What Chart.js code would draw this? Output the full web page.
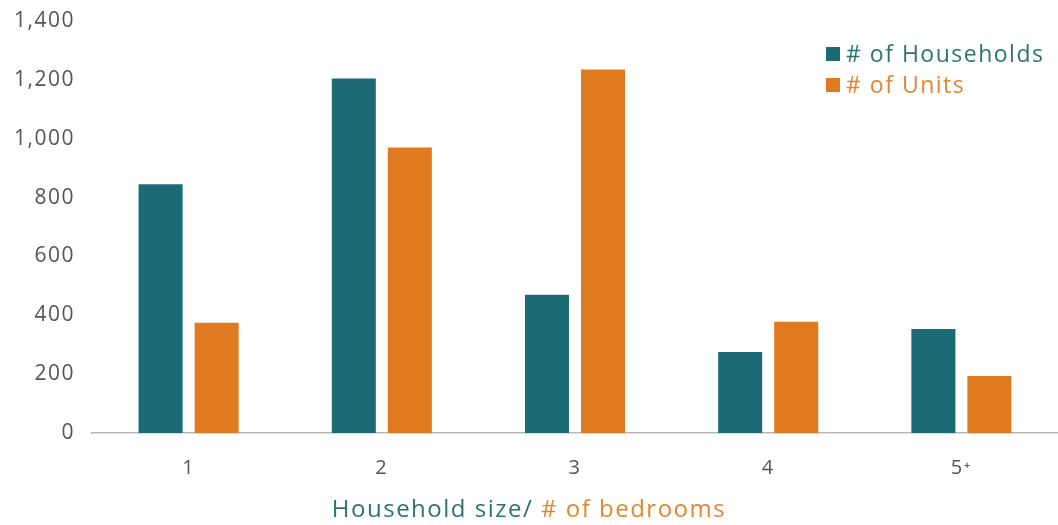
<!DOCTYPE html>
<html>
<head>
<meta charset="utf-8">
<style>
  html, body { margin: 0; padding: 0; background: #fff; }
  #wrap { position: relative; width: 1058px; height: 525px; }
</style>
<script src="https://cdn.jsdelivr.net/npm/chart.js@4/dist/chart.umd.min.js"></script>
</head>
<body>
<div id="wrap"><canvas id="chart" width="1058" height="525"></canvas></div>
<script>
// Household size / bedroom categories
const categories = ['1', '2', '3', '4', '5\u207A'];
const households = [845, 1205, 470, 275, 353];
const units = [375, 970, 1235, 378, 194];
const seriesNames = ['# of Households', '# of Units'];
const titleParts = ['Household size/ ', '# of bedrooms'];

const TEAL = '#1d6a77';
const ORANGE = '#e07a20';
const TEAL_TEXT = '#2c7470';
const ORANGE_TEXT = '#e4862e';
const FONT = '"Open Sans", Lato, sans-serif';
const TICK_SPACING = '1.5px';
const TEXT_SPACING = '1.5px';

// Slightly open lettering for the axis labels
const spacing = {
  id: 'spacing',
  beforeLayout(chart) { chart.ctx.letterSpacing = TICK_SPACING; },
  beforeDraw(chart) { chart.ctx.letterSpacing = TICK_SPACING; }
};

// Legend in the top-right corner and the two-colour axis title
const decorations = {
  id: 'decorations',
  afterDraw(chart) {
    const ctx = chart.ctx;
    ctx.save();
    ctx.letterSpacing = TEXT_SPACING;
    const textColors = [TEAL_TEXT, ORANGE_TEXT];
    chart.data.datasets.forEach((ds, i) => {
      const y = 54 + i * 31;
      ctx.fillStyle = ds.backgroundColor;
      ctx.fillRect(826, y - 7, 14, 14);
      ctx.font = '23px ' + FONT;
      ctx.textBaseline = 'middle';
      ctx.textAlign = 'left';
      ctx.fillStyle = textColors[i];
      ctx.fillText(ds.label, 846, y + 1);
    });
    ctx.font = '24px ' + FONT;
    ctx.textBaseline = 'middle';
    ctx.textAlign = 'left';
    const w0 = ctx.measureText(titleParts[0]).width;
    const w1 = ctx.measureText(titleParts[1]).width;
    let x = chart.width / 2 - (w0 + w1) / 2;
    const y = 510;
    ctx.fillStyle = TEAL_TEXT;
    ctx.fillText(titleParts[0], x, y);
    ctx.fillStyle = ORANGE_TEXT;
    ctx.fillText(titleParts[1], x + w0, y);
    ctx.restore();
  }
};

new Chart(document.getElementById('chart'), {
  type: 'bar',
  data: {
    labels: categories,
    datasets: [
      { label: seriesNames[0], data: households, backgroundColor: TEAL },
      { label: seriesNames[1], data: units, backgroundColor: ORANGE }
    ]
  },
  options: {
    responsive: false,
    animation: false,
    devicePixelRatio: 1,
    barPercentage: 0.786,
    categoryPercentage: 0.58,
    layout: { padding: { top: 21, right: 0, left: 0, bottom: 0 } },
    plugins: {
      legend: { display: false },
      tooltip: { enabled: false }
    },
    scales: {
      x: {
        grid: { display: false, drawTicks: false },
        border: { display: true, color: '#b8b8b8', width: 1.5 },
        ticks: { color: '#555', font: { family: FONT, size: 20 }, padding: 23 },
        afterFit(scale) { scale.height = 92; }
      },
      y: {
        min: 0,
        max: 1400,
        grid: { display: false, drawTicks: false },
        border: { display: false },
        ticks: {
          stepSize: 200,
          color: '#555',
          padding: 17,
          font: { family: FONT, size: 21 },
          callback: v => v.toLocaleString('en-US')
        },
        afterFit(scale) {
          scale.width = 92;
          scale.paddingTop = 0;
          scale.paddingBottom = 0;
        }
      }
    }
  },
  plugins: [spacing, decorations]
});
</script>
</body>
</html>
